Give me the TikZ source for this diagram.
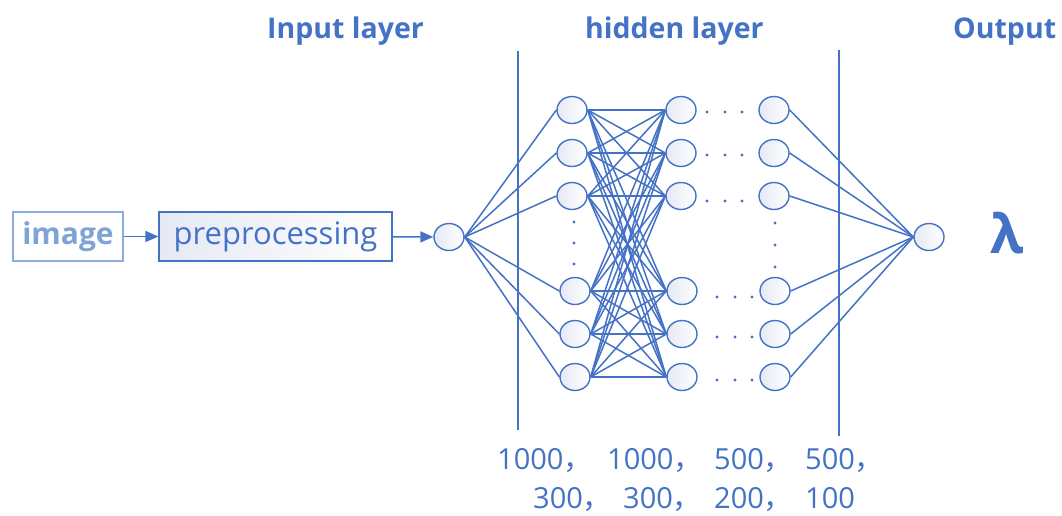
\documentclass[tikz,border=0pt]{standalone}
\usepackage{fontspec}
\setmainfont{Open Sans}
\newfontfamily\cjk{Noto Sans CJK SC}
\usetikzlibrary{shapes.geometric,arrows.meta}
\definecolor{ob}{HTML}{4472C4}
\definecolor{lb}{HTML}{7FA3D6}
\definecolor{lbd}{HTML}{8CADDB}
\definecolor{nfill}{HTML}{E6E9F4}
\begin{document}
\begin{tikzpicture}[x=1pt,y=-1pt,
  neuron/.style={ellipse,draw=ob,line width=1.4pt,minimum width=30pt,minimum height=27pt,inner sep=0pt,left color=nfill,right color=white},
  conn/.style={draw=ob,line width=1.5pt},
  arr/.style={draw=ob,line width=1.5pt,-{Triangle[length=13pt,width=11pt]}},
  heading/.style={text=ob,font=\fontsize{28.5}{32}\selectfont\bfseries,anchor=base west,inner sep=0pt},
  num/.style={text=ob,font=\fontsize{29}{32}\selectfont,anchor=base west,inner sep=0pt},
  dotc/.style={circle,fill=ob,inner sep=0pt,minimum size=3.2pt},
  vline/.style={draw=ob,line width=1.5pt}]
\useasboundingbox[fill=white] (0,0) rectangle (1062,515);

% headings
\node[heading] (hin) at (267,38) {Input layer};
\node[heading] (hhid) at (585,38) {hidden layer};
\node[heading] (hout) at (953,38) {Output};

% boxes
\node[draw=lbd,line width=1.3pt,minimum width=110pt,minimum height=49pt,inner sep=0pt,text=lb,font=\fontsize{30}{32}\selectfont\bfseries] (img) at (68,236.5) {image};
\node[draw=ob,line width=1.3pt,minimum width=233pt,minimum height=49pt,inner sep=0pt,left color=nfill,right color=white,text=ob,font=\fontsize{31}{32}\selectfont] (pre) at (275.5,236.5) {preprocessing};

% neurons
\node[neuron] (in) at (449,237) {};
\foreach \i/\x/\y in {1/572/110,2/572/153,3/572/196,4/575/291,5/575/334,6/575/377}
  \node[neuron] (a\i) at (\x,\y) {};
\foreach \i/\x/\y in {1/681/110,2/681/153,3/681/196,4/682/291,5/682/334,6/682/377}
  \node[neuron] (b\i) at (\x,\y) {};
\foreach \i/\x/\y in {1/774/110,2/774/153,3/774/196,4/775/291,5/775/334,6/775/377}
  \node[neuron] (c\i) at (\x,\y) {};
\node[neuron] (out) at (929,237) {};

% vertical lines
\coordinate (v1t) at (518,51);
\coordinate (v1b) at (518,430);
\coordinate (v2t) at (839,50);
\coordinate (v2b) at (839,436);
\draw[vline] (v1t) -- (v1b);
\draw[vline] (v2t) -- (v2b);

% arrows
\draw[arr] (img) -- (pre);
\draw[arr] (pre) -- (in);

% connections
\foreach \i in {1,...,6} {
  \draw[conn] (in.east) -- (a\i.west);
  \draw[conn] (c\i.east) -- (out.west);
  \foreach \j in {1,...,6}
    \draw[conn] (a\i.east) -- (b\j.west);
}

% dots
\foreach \y in {112,155,201} {
  \node[dotc] at (707,\y) {};
  \node[dotc] at (725,\y) {};
  \node[dotc] at (742,\y) {};
}
\foreach \y in {297,337,380} {
  \node[dotc] at (717,\y) {};
  \node[dotc] at (735,\y) {};
  \node[dotc] at (752,\y) {};
}
\foreach \y in {222,243,264} \node[dotc] at (574,\y) {};
\foreach \y in {223,245,267} \node[dotc] at (775,\y) {};

% lambda
\node[text=ob,font=\fontsize{54}{58}\selectfont\bfseries,anchor=base,inner sep=0pt] (lam) at (1007,253) {λ};

% numbers
\node[num] (n1) at (497,469) {1000{\cjk ，}};
\node[num] (n2) at (607,469) {1000{\cjk ，}};
\node[num] (n3) at (714,469) {500{\cjk ，}};
\node[num] (n4) at (805,469) {500{\cjk ，}};
\node[num] (n5) at (533,508) {300{\cjk ，}};
\node[num] (n6) at (623,508) {300{\cjk ，}};
\node[num] (n7) at (714,508) {200{\cjk ，}};
\node[num] (n8) at (805,508) {100};
\end{tikzpicture}
\end{document}
